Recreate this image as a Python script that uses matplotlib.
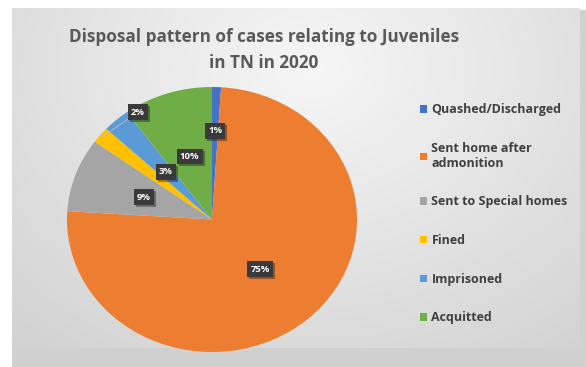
import numpy as np
import matplotlib
matplotlib.use("Agg")
import matplotlib.pyplot as plt
from matplotlib.patches import Rectangle
import matplotlib.patheffects as pe

plt.rcParams['font.family'] = ['Open Sans', 'DejaVu Sans']

# disposal categories and their share of cases (%)
categories = ["Quashed/Discharged", "Sent home after\nadmonition", "Sent to Special homes",
              "Fined", "Imprisoned", "Acquitted"]
shares = [1, 75, 9, 2, 3, 10]
colors = ["#4472C4", "#ED7D31", "#A5A5A5", "#FFC000", "#5B9BD5", "#70AD47"]
title = "Disposal pattern of cases relating to Juveniles\nin TN in 2020"

W, H = 586, 367
fig = plt.figure(figsize=(W / 100, H / 100), dpi=100)
fig.patch.set_facecolor("white")

# panel shadow and gradient background
fig.patches.append(Rectangle((12 / W, 0), 1 - 12 / W, 1 - 10 / H, transform=fig.transFigure,
                             facecolor="#d0d0d0", edgecolor="none", zorder=-3))
bg = fig.add_axes([12 / W, 19 / H, 568 / W, 340 / H], zorder=-2)
yy, xx = np.mgrid[0:340, 0:568]
d = np.sqrt(((xx - 300) / 420.0) ** 2 + ((yy - 60) / 330.0) ** 2)
shade = np.clip(0.965 - 0.13 * d, 0.82, 0.97)
bg.imshow(np.dstack([shade] * 3), aspect="auto", interpolation="bilinear")
bg.axis("off")

fig.text(264 / W, 1 - 50 / H, title, ha="center", va="center", fontsize=12.3,
         fontweight="bold", color="#595959", linespacing=1.5)

# pie, slightly stretched horizontally
cx, cy, rx, ry = 212, 219.5, 145, 132.5
ax = fig.add_axes([(cx - rx) / W, 1 - (cy + ry) / H, 2 * rx / W, 2 * ry / H])
wedges, _ = ax.pie(shares, colors=colors, startangle=90, counterclock=False,
                   wedgeprops=dict(linewidth=0))
ax.set_aspect("auto")
ax.set_xlim(-1, 1)
ax.set_ylim(-1, 1)

box = dict(boxstyle="square,pad=0.35", facecolor="#3a3a3a", edgecolor="none")
shadow = [pe.withSimplePatchShadow(offset=(1.5, -1.5), shadow_rgbFace="#000000", alpha=0.35)]
dist = [0.67, 0.5, 0.5, None, 0.48, 0.5]
for w, v, r in zip(wedges, shares, dist):
    mid = np.deg2rad((w.theta1 + w.theta2) / 2)
    if r is None:
        # small slice: label pulled out with a leader
        x0, y0 = np.cos(mid) * 0.98, np.sin(mid) * 0.98
        t = ax.annotate(f"{v}%", xy=(x0, y0), xytext=(-0.51, 0.81), ha="center", va="center",
                        fontsize=6.8, fontweight="bold", color="white", bbox=box,
                        arrowprops=dict(arrowstyle="-", color="#bfbfbf", lw=0.6,
                                        shrinkA=0, shrinkB=0))
    else:
        t = ax.text(np.cos(mid) * r, np.sin(mid) * r, f"{v}%", ha="center", va="center",
                    fontsize=6.8, fontweight="bold", color="white", bbox=box)
    t.get_bbox_patch().set_path_effects(shadow)

leg = fig.legend(wedges, categories, loc="upper left", bbox_to_anchor=(409 / W, 1 - 92 / H),
                 frameon=False, handlelength=0.55, handleheight=0.55,
                 handletextpad=0.35, labelspacing=2.05, prop=dict(weight="bold", size=9))
for txt in leg.get_texts():
    txt.set_color("#404040")

fig.savefig("out.png", dpi=100)
